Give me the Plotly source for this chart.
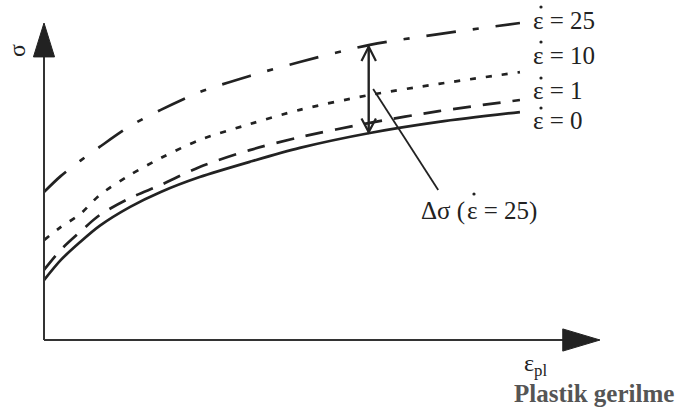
import plotly.graph_objects as go

# ---- data (plastic strain vs. flow stress, arbitrary units 0..100) ----
strain = [0, 3, 6.5, 10, 15.5, 21, 28, 37, 46, 58.6, 71, 85.6]
stress_rate0 = [18.9, 25.2, 30.9, 36.0, 42.0, 46.7, 51.4, 56.2, 60.6, 65.3, 68.8, 71.9]
stress_rate1 = [22.1, 28.4, 34.1, 39.4, 44.8, 48.9, 54.6, 59.9, 64.0, 68.5, 72.2, 75.7]
stress_rate10 = [31.5, 35.6, 39.7, 45.7, 52.1, 57.4, 63.1, 68.1, 72.6, 77.3, 80.8, 84.5]
stress_rate25 = [46.7, 51.7, 56.5, 60.9, 67.5, 72.6, 78.2, 83.3, 87.7, 93.1, 96.5, 100.0]
rate_labels = ["ε\u00a0=\u00a00", "ε\u00a0=\u00a01", "ε\u00a0=\u00a010", "ε\u00a0=\u00a025"]
delta_label_left = "Δσ\u00a0("
delta_label_right = "ε\u00a0=\u00a025)"
y_label = "σ"
x_label = "ε<sub>pl</sub>"
x_title = "Plastik gerilme"

W, H = 677, 414
FONT = "Liberation Serif"
INK = "#222222"
AX = "#333333"


def dx(px):
    return (px - 44) / 5.56


def dy(py):
    return (340 - py) / 3.17


fig = go.Figure()
series = [
    (stress_rate0, "solid"),
    (stress_rate1, "18px,12px"),
    (stress_rate10, "6px,10px"),
    (stress_rate25, "30px,17px,6px,17px"),
]
for ys, dash in series:
    fig.add_trace(go.Scatter(
        x=strain, y=ys, mode="lines",
        line=dict(color=INK, width=2.7, dash=dash, shape="spline", smoothing=0.8),
        showlegend=False, hoverinfo="skip"))

shapes = []
# axes
shapes.append(dict(type="line", x0=0, y0=0, x1=0, y1=90, line=dict(color=AX, width=2)))
shapes.append(dict(type="line", x0=0, y0=0, x1=94, y1=0, line=dict(color=AX, width=2)))
shapes.append(dict(type="path", path="M 0 100 L -1.9 89.3 L 1.9 89.3 Z",
                   fillcolor=INK, line=dict(color=INK, width=1)))
shapes.append(dict(type="path", path="M 100 0 L 93.3 3.5 L 93.3 -3.5 Z",
                   fillcolor=INK, line=dict(color=INK, width=1)))

# delta-sigma double arrow between rate 25 and rate 0 curves
i = strain.index(58.6)
xa = strain[i] - 0.2
ytop = stress_rate25[i] - 0.6
ybot = stress_rate0[i] + 0.3
shapes.append(dict(type="line", x0=xa, y0=ybot, x1=xa, y1=ytop, line=dict(color=INK, width=2.4)))
shapes.append(dict(type="path", path=f"M {xa-1.3} {ytop-4.5} L {xa} {ytop} L {xa+1.3} {ytop-4.5}",
                   line=dict(color=INK, width=2.2)))
shapes.append(dict(type="path", path=f"M {xa-1.3} {ybot+4.3} L {xa} {ybot} L {xa+1.3} {ybot+4.3}",
                   line=dict(color=INK, width=2.2)))
# leader line to label
shapes.append(dict(type="line", x0=59.2, y0=79.2, x1=70.9, y1=47.3, line=dict(color=INK, width=1.8)))

# rate "dots" above epsilon (time derivative)
for (px, py) in [(541, 7), (541, 42), (541, 78), (541, 108), (474, 194)]:
    shapes.append(dict(type="circle", xref="x", yref="y", xsizemode="pixel", ysizemode="pixel",
                       xanchor=dx(px), yanchor=dy(py), x0=-1.6, x1=1.6, y0=-1.6, y1=1.6,
                       fillcolor=INK, line=dict(width=0)))

annotations = []
label_py = [120, 90, 55, 20]
for txt, py in zip(rate_labels, label_py):
    annotations.append(dict(x=dx(531), y=dy(py), text=txt, showarrow=False, xanchor="left", yanchor="middle",
                            font=dict(family=FONT, size=25, color=INK)))
annotations.append(dict(x=dx(467), y=dy(211), text=delta_label_left, showarrow=False, xanchor="right",
                        font=dict(family=FONT, size=25, color=INK)))
annotations.append(dict(x=dx(465), y=dy(211), text=delta_label_right, showarrow=False, xanchor="left",
                        font=dict(family=FONT, size=25, color=INK)))
annotations.append(dict(x=dx(17), y=dy(51), text=y_label, showarrow=False, textangle=-90,
                        font=dict(family=FONT, size=24, color=INK)))
annotations.append(dict(x=dx(535), y=dy(365), text=x_label, showarrow=False,
                        font=dict(family=FONT, size=24, color=INK)))
annotations.append(dict(x=dx(676), y=dy(393), text="<b>" + x_title + "</b>", showarrow=False, xanchor="right",
                        font=dict(family=FONT, size=25, color="#555555")))

fig.update_layout(
    width=W, height=H, autosize=False,
    margin=dict(l=0, r=0, t=0, b=0),
    paper_bgcolor="white", plot_bgcolor="white",
    xaxis=dict(range=[dx(0), dx(W)], visible=False, fixedrange=True),
    yaxis=dict(range=[dy(H), dy(0)], visible=False, fixedrange=True),
    shapes=shapes, annotations=annotations,
)

fig.write_html("out.html", post_script="document.body.style.margin='0';",
               config={"displayModeBar": False})
